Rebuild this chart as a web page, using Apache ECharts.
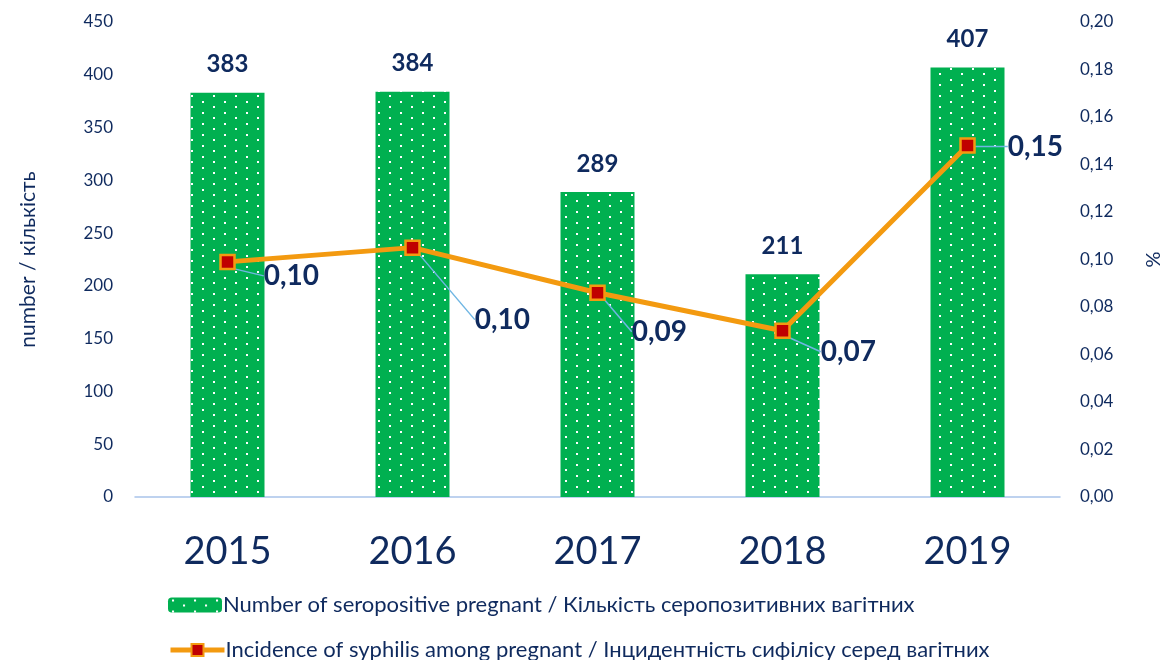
<!DOCTYPE html>
<html>
<head>
<meta charset="utf-8">
<style>
  html, body { margin: 0; padding: 0; background: #fff; }
  #chart { width: 1163px; height: 660px; }
</style>
<script src="https://cdn.jsdelivr.net/npm/echarts@6/dist/echarts.min.js"></script>
</head>
<body>
<div id="chart"></div>
<script>
const years = ['2015', '2016', '2017', '2018', '2019']
const seropositive = [383, 384, 289, 211, 407]
const incidence = [0.099, 0.105, 0.086, 0.070, 0.148]
const leftTicks = [0, 50, 100, 150, 200, 250, 300, 350, 400, 450]
const rightTicks = [0, 0.02, 0.04, 0.06, 0.08, 0.1, 0.12, 0.14, 0.16, 0.18, 0.2]

const barName = 'Number of seropositive pregnant / Кількість серопозитивних вагітних'
const lineName = 'Incidence of syphilis among pregnant / Інцидентність сифілісу серед вагітних'

const navy = '#0f2a5e'
const font = 'Lato, "Noto Sans", sans-serif'

// label shifts for the line values (leader lines)
const labelShift = [[22, 14], [48, 72], [20, 39], [24, 21], [26, 1]]

// dotted green fill
function dots() {
	const c = document.createElement('canvas')
	c.width = 22
	c.height = 11
	const ctx = c.getContext('2d')
	ctx.fillStyle = '#00b050'
	ctx.fillRect(0, 0, 22, 11)
	ctx.fillStyle = '#ffffff'
	ctx.fillRect(4, 2, 2, 2)
	ctx.fillRect(15, 7, 2, 2)
	return c
}
const pattern = { image: dots(), repeat: 'repeat' }

const chart = echarts.init(document.getElementById('chart'))

const legendBase = {
	left: 168,
	padding: 0,
	itemWidth: 54,
	itemHeight: 15,
	textStyle: { color: navy, fontSize: 22, fontFamily: font, padding: [0, 0, 0, -4] },
}

chart.setOption({
	animation: false,
	textStyle: { fontFamily: font },
	grid: { left: 135, right: 103, top: 22, bottom: 163, outerBoundsMode: 'none', containLabel: false },
	legend: [
		Object.assign({}, legendBase, { top: 594, data: [{ name: barName }] }),
		Object.assign({}, legendBase, { top: 639, data: [{ name: lineName, lineStyle: { width: 5 } }] }),
	],
	xAxis: {
		type: 'category',
		data: years,
		axisLine: { lineStyle: { color: '#a9c4ea', width: 1.5 } },
		axisTick: { show: false },
		axisLabel: { color: navy, fontSize: 38, margin: 36 },
	},
	yAxis: [
		{
			type: 'value',
			min: leftTicks[0],
			max: leftTicks[leftTicks.length - 1],
			interval: 50,
			splitLine: { show: false },
			axisLabel: { color: navy, fontSize: 17, margin: 22 },
			name: 'number / кількість',
			nameLocation: 'middle',
			nameGap: 96,
			nameTextStyle: { color: navy, fontSize: 21 },
		},
		{
			type: 'value',
			min: rightTicks[0],
			max: rightTicks[rightTicks.length - 1],
			interval: 0.02,
			splitLine: { show: false },
			axisLabel: {
				color: navy,
				fontSize: 17,
				margin: 20,
				formatter: (v) => v.toFixed(2).replace('.', ','),
			},
			name: '%',
			nameLocation: 'middle',
			nameGap: 82,
			nameRotate: -90,
			nameTextStyle: { color: navy, fontSize: 20 },
		},
	],
	series: [
		{
			name: barName,
			type: 'bar',
			data: seropositive,
			barWidth: '40%',
			itemStyle: { color: pattern },
			label: {
				show: true,
				position: 'top',
				distance: 16,
				color: navy,
				fontSize: 24,
				fontWeight: 'bold',
			},
		},
		{
			name: lineName,
			type: 'line',
			yAxisIndex: 1,
			data: incidence,
			symbol: 'rect',
			symbolSize: 14,
			lineStyle: { color: '#f39a10', width: 5 },
			itemStyle: { color: '#c00000', borderColor: '#f39a10', borderWidth: 2.5 },
			label: {
				show: true,
				position: 'right',
				distance: 6,
				color: navy,
				fontSize: 28,
				fontWeight: 'bold',
				formatter: (p) => p.value.toFixed(2).replace('.', ','),
			},
			labelLine: { show: true, lineStyle: { color: '#6fb6e3', width: 1.5 } },
			labelLayout: (p) => ({ dx: labelShift[p.dataIndex][0], dy: labelShift[p.dataIndex][1] }),
		},
	],
})
</script>
</body>
</html>
